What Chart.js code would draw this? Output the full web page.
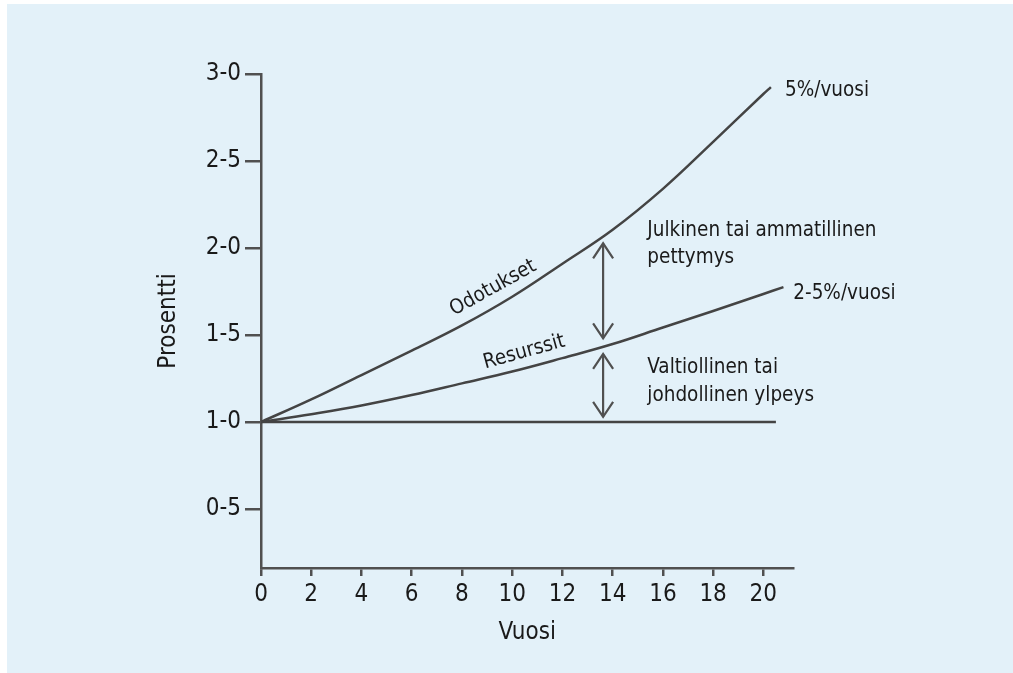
<!DOCTYPE html>
<html><head><meta charset="utf-8">
<script src="https://cdn.jsdelivr.net/npm/chart.js@4.4.0/dist/chart.umd.min.js"></script>
<style>
html,body{margin:0;padding:0;background:#ffffff;width:1013px;height:673px;overflow:hidden}
#bg{position:absolute;left:7px;top:4px;right:0;bottom:0;background:#e3f1f9}
#wrap{position:absolute;left:0;top:0;width:1013px;height:673px}
</style></head><body>
<div id="bg"></div>
<div id="wrap"><canvas id="c" width="1013" height="673"></canvas></div>
<script>
// ---- data ----
const expectX = [0, 2, 4, 6, 8, 10, 12, 14, 16, 18, 20, 20.3];
const expectY = [1.0, 1.13, 1.27, 1.41, 1.555, 1.72, 1.91, 2.105, 2.34, 2.61, 2.885, 2.925];
const resourceX = [0, 2, 4, 6, 8, 10, 12, 14, 16, 18, 20, 20.8];
const resourceY = [1.0, 1.045, 1.095, 1.155, 1.222, 1.29, 1.367, 1.448, 1.543, 1.638, 1.736, 1.775];
const baseX = [0, 20.5];
const baseY = [1.0, 1.0];
const yTickValues = [0.5, 1.0, 1.5, 2.0, 2.5, 3.0];
const yTickLabels = ['0-5', '1-0', '1-5', '2-0', '2-5', '3-0'];
const xTickValues = [0, 2, 4, 6, 8, 10, 12, 14, 16, 18, 20];
const xTickLabels = ['0', '2', '4', '6', '8', '10', '12', '14', '16', '18', '20'];
const arrowX = 13.62;
const arrowUpper = [1.481, 2.027];
const arrowLower = [1.030, 1.391];

const FONT = '"DejaVu Sans Condensed", "Liberation Sans Narrow", "DejaVu Sans", sans-serif';
const TXT = '#1a1a1a';
const LINE = '#444444';
const AXIS = '#505050';

const zip = (xs, ys) => xs.map((x, i) => ({x: x, y: ys[i]}));

const annotations = [
  {text: '5%/vuosi', x: 20.86, y: 2.875},
  {text: 'Julkinen tai ammatillinen', x: 15.38, y: 2.069},
  {text: 'pettymys', x: 15.38, y: 1.912},
  {text: '2-5%/vuosi', x: 21.19, y: 1.705},
  {text: 'Valtiollinen tai', x: 15.38, y: 1.283},
  {text: 'johdollinen ylpeys', x: 15.38, y: 1.119}
];
const curveLabels = [
  {text: 'Odotukset', x: 9.24, y: 1.770, angle: -29},
  {text: 'Resurssit', x: 10.48, y: 1.402, angle: -15.5}
];

const annotPlugin = {
  id: 'annot',
  afterDatasetsDraw(chart) {
    const ctx = chart.ctx;
    const xs = chart.scales.x, ys = chart.scales.y;
    ctx.save();
    // arrows
    ctx.strokeStyle = AXIS;
    ctx.lineWidth = 2.2;
    ctx.lineCap = 'butt';
    const px = xs.getPixelForValue(arrowX);
    [arrowUpper, arrowLower].forEach(a => {
      const y0 = ys.getPixelForValue(a[0]);
      const y1 = ys.getPixelForValue(a[1]);
      ctx.beginPath();
      ctx.moveTo(px, y0); ctx.lineTo(px, y1);
      ctx.stroke();
      ctx.beginPath();
      ctx.moveTo(px - 10, y1 + 15); ctx.lineTo(px, y1); ctx.lineTo(px + 10, y1 + 15);
      ctx.moveTo(px - 10, y0 - 15); ctx.lineTo(px, y0); ctx.lineTo(px + 10, y0 - 15);
      ctx.stroke();
    });
    // text
    ctx.fillStyle = TXT;
    ctx.font = '20.5px ' + FONT;
    ctx.textAlign = 'left';
    ctx.textBaseline = 'alphabetic';
    annotations.forEach(a => {
      ctx.fillText(a.text, xs.getPixelForValue(a.x), ys.getPixelForValue(a.y));
    });
    ctx.textAlign = 'center';
    ctx.textBaseline = 'middle';
    curveLabels.forEach(a => {
      ctx.save();
      ctx.translate(xs.getPixelForValue(a.x), ys.getPixelForValue(a.y));
      ctx.rotate(a.angle * Math.PI / 180);
      ctx.fillText(a.text, 0, 0);
      ctx.restore();
    });
    ctx.restore();
  }
};

const lineStyle = {
  borderColor: LINE,
  borderWidth: 2.5,
  pointRadius: 0,
  fill: false,
  tension: 0.4
};

new Chart(document.getElementById('c'), {
  type: 'line',
  data: {
    datasets: [
      Object.assign({label: 'Odotukset', data: zip(expectX, expectY)}, lineStyle),
      Object.assign({label: 'Resurssit', data: zip(resourceX, resourceY)}, lineStyle),
      Object.assign({label: 'Perustaso', data: zip(baseX, baseY)}, lineStyle)
    ]
  },
  options: {
    responsive: false,
    animation: false,
    devicePixelRatio: 1,
    layout: {padding: {top: 74, right: 219.5, left: 0, bottom: 0}},
    plugins: {legend: {display: false}, tooltip: {enabled: false}},
    scales: {
      x: {
        type: 'linear',
        min: 0, max: 21.2,
        afterFit(s) { s.height = 105; },
        afterBuildTicks(s) { s.ticks = xTickValues.map(v => ({value: v})); },
        ticks: {
          autoSkip: false, maxRotation: 0, padding: 4,
          color: TXT, font: {family: FONT, size: 24},
          callback: (v, i) => xTickLabels[i]
        },
        grid: {display: true, drawOnChartArea: false, drawTicks: true, tickLength: 8, color: AXIS, lineWidth: 2.5},
        border: {display: true, color: AXIS, width: 2.5},
        title: {display: true, text: 'Vuosi', color: TXT, font: {family: FONT, size: 24}, padding: {top: 0, bottom: 26}}
      },
      y: {
        type: 'linear',
        min: 0.161, max: 3.0,
        afterFit(s) { s.width = 261; },
        afterBuildTicks(s) { s.ticks = yTickValues.map(v => ({value: v})); },
        ticks: {
          autoSkip: false, padding: 4,
          color: TXT, font: {family: FONT, size: 24},
          callback: (v, i) => yTickLabels[i]
        },
        grid: {display: true, drawOnChartArea: false, drawTicks: true, tickLength: 16, color: AXIS, lineWidth: 2.5},
        border: {display: true, color: AXIS, width: 2.5},
        title: {display: true, text: 'Prosentti', color: TXT, font: {family: FONT, size: 24}, padding: {top: 154, bottom: 0}}
      }
    }
  },
  plugins: [annotPlugin]
});
</script>
</body></html>
